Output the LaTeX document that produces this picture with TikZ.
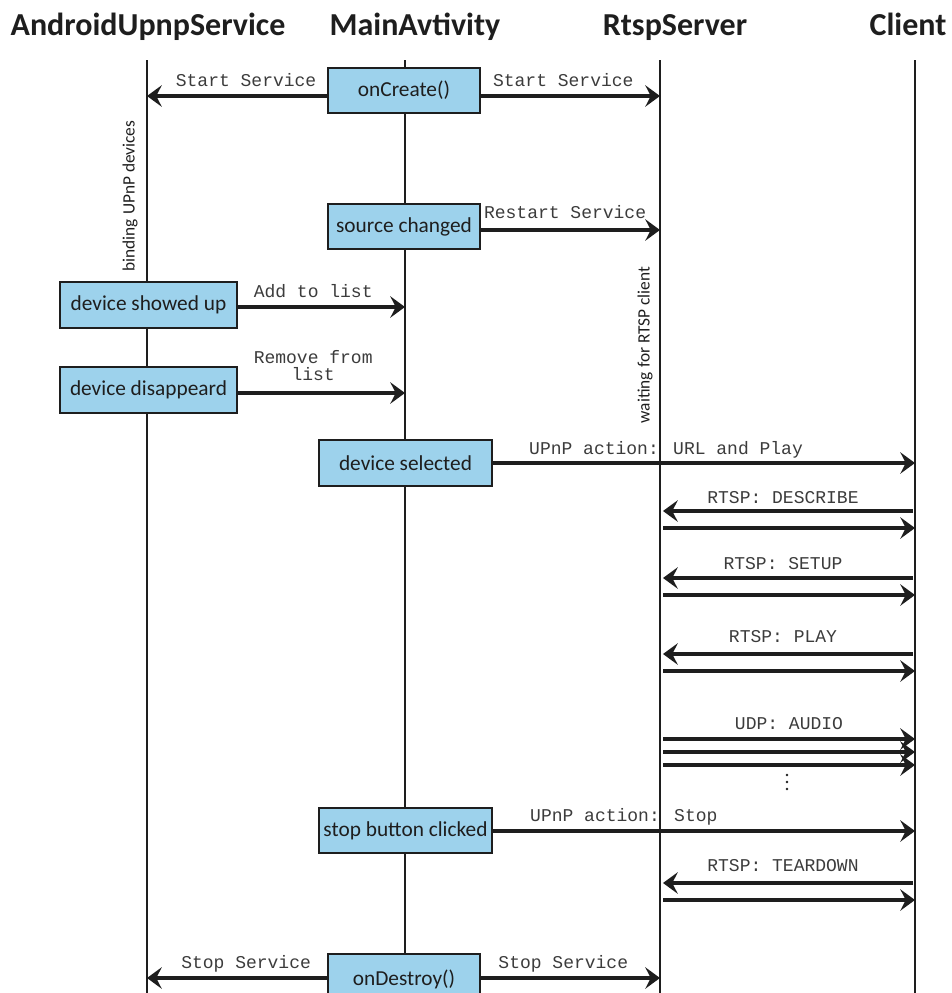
\documentclass[tikz,border=0pt]{standalone}
\usepackage{fontspec}
\setmainfont{Carlito}
\newfontfamily\msgfont{Liberation Mono}
\usetikzlibrary{arrows.meta}
\definecolor{boxblue}{RGB}{157,210,236}
\definecolor{ink}{RGB}{30,30,30}
\definecolor{msgink}{RGB}{60,60,60}
\begin{document}
\begin{tikzpicture}[x=0.75pt,y=-0.75pt,
  head/.style={font=\bfseries\fontsize{24}{28}\selectfont, text=ink, inner sep=0pt, anchor=base},
  lifeline/.style={draw=ink, line width=2.2pt},
  stepbox/.style={draw=ink, fill=boxblue, line width=1.3pt, minimum height=34pt,
    font=\fontsize{16}{19}\selectfont, text=ink, inner sep=0pt},
  msg/.style={draw=ink, line width=2.4pt,
    -{Stealth[length=11pt, width=16pt, inset=4pt]}},
  lbl/.style={font=\msgfont\fontsize{13.5}{14}\selectfont, text=msgink,
    inner sep=1.5pt, above=#1, align=center},
  lbl/.default=4pt,
  side/.style={font=\fontsize{13}{15}\selectfont, text=ink, rotate=90, inner sep=0pt}]
\useasboundingbox (0,0) rectangle (951,993);

% column headings
\node[head] (hA) at (148,35) {AndroidUpnpService};
\node[head] (hM) at (415,35) {MainAvtivity};
\node[head] (hR) at (675,35) {RtspServer};
\node[head] (hC) at (908,35) {Client};

% lifelines
\coordinate (aTop) at (147,60); \coordinate (aBot) at (147,993);
\coordinate (mTop) at (405,60); \coordinate (mBot) at (405,993);
\coordinate (rTop) at (660,60); \coordinate (rBot) at (660,993);
\coordinate (cTop) at (915,60); \coordinate (cBot) at (915,993);
\draw[lifeline] (aTop) -- (aBot);
\draw[lifeline] (mTop) -- (mBot);
\draw[lifeline] (rTop) -- (rBot);
\draw[lifeline] (cTop) -- (cBot);

% state notes beside lifelines
\node[side] (bind) at (130,196) {binding UPnP devices};
\node[side] (wait) at (645,345) {waiting for RTSP client};

% activity boxes
\node[stepbox, minimum width=114pt] (create) at (404,90.5) {onCreate()};
\node[stepbox, minimum width=114pt] (source) at (404,226.5) {source changed};
\node[stepbox, minimum width=133pt] (shown) at (148.5,305) {device showed up};
\node[stepbox, minimum width=133pt] (gone) at (148.5,390) {device disappeard};
\node[stepbox, minimum width=130pt] (select) at (405.5,463) {device selected};
\node[stepbox, minimum width=130pt] (stop) at (405.5,830.5) {stop button clicked};
\node[stepbox, minimum width=114pt, minimum height=40pt, anchor=north] (destroy) at (404,953) {\raisebox{4pt}{onDestroy()}};

% message end points on the lifelines
\coordinate (a1) at (147,96);  \coordinate (r1) at (660,96);
\coordinate (r2) at (660,230);
\coordinate (m3) at (405,307);
\coordinate (m4) at (405,393);
\coordinate (c5) at (915,463);
\coordinate (c6) at (913,511); \coordinate (r6) at (663,511);
\coordinate (r6b) at (663,528); \coordinate (c6b) at (915,528);
\coordinate (c7) at (913,578); \coordinate (r7) at (663,578);
\coordinate (r7b) at (663,595); \coordinate (c7b) at (915,595);
\coordinate (c8) at (913,654); \coordinate (r8) at (663,654);
\coordinate (r8b) at (663,671); \coordinate (c8b) at (915,671);
\coordinate (r9a) at (663,739); \coordinate (c9a) at (915,739);
\coordinate (r9b) at (663,752); \coordinate (c9b) at (915,752);
\coordinate (r9c) at (663,765); \coordinate (c9c) at (915,765);
\coordinate (c10) at (915,831);
\coordinate (c11) at (913,883); \coordinate (r11) at (663,883);
\coordinate (r11b) at (663,900); \coordinate (c11b) at (915,900);
\coordinate (a12) at (147,978); \coordinate (r12) at (660,978);

% messages
\draw[msg] (create.west |- a1) -- node[lbl, pos=0.45] {Start Service} (a1);
\draw[msg] (create.east |- r1) -- node[lbl, pos=0.46] {Start Service} (r1);
\draw[msg] (source.east |- r2) -- node[lbl=5.5pt, pos=0.47] {Restart Service} (r2);
\draw[msg] (shown.east |- m3) -- node[lbl, pos=0.45] {Add to list} (m3);
\draw[msg] (gone.east |- m4) -- node[lbl=6.5pt, pos=0.45, font=\msgfont\fontsize{13.5}{12.5}\selectfont] {Remove from\\list} (m4);
\draw[msg] (select.east |- c5) -- node[lbl=1pt, pos=0.41] {UPnP action: URL and Play} (c5);
\draw[msg] (c6) -- node[lbl=2.5pt, pos=0.52] {RTSP: DESCRIBE} (r6);
\draw[msg] (r6b) -- (c6b);
\draw[msg] (c7) -- node[lbl=3.5pt, pos=0.52] {RTSP: SETUP} (r7);
\draw[msg] (r7b) -- (c7b);
\draw[msg] (c8) -- node[lbl=6pt, pos=0.52] {RTSP: PLAY} (r8);
\draw[msg] (r8b) -- (c8b);
\draw[msg] (r9a) -- node[lbl, pos=0.5] {UDP: AUDIO} (c9a);
\draw[msg] (r9b) -- (c9b);
\draw[msg] (r9c) -- (c9c);
% continuation dots below the audio stream
\foreach \yy in {775,782,789} \fill[ink] (787,\yy) circle (1.1pt);
\draw[msg] (stop.east |- c10) -- node[lbl=2pt, pos=0.31] {UPnP action: Stop} (c10);
\draw[msg] (c11) -- node[lbl=6pt, pos=0.52] {RTSP: TEARDOWN} (r11);
\draw[msg] (r11b) -- (c11b);
\draw[msg] (destroy.west |- a12) -- node[lbl=2pt, pos=0.45] {Stop Service} (a12);
\draw[msg] (destroy.east |- r12) -- node[lbl=2pt, pos=0.46] {Stop Service} (r12);
\end{tikzpicture}
\end{document}
